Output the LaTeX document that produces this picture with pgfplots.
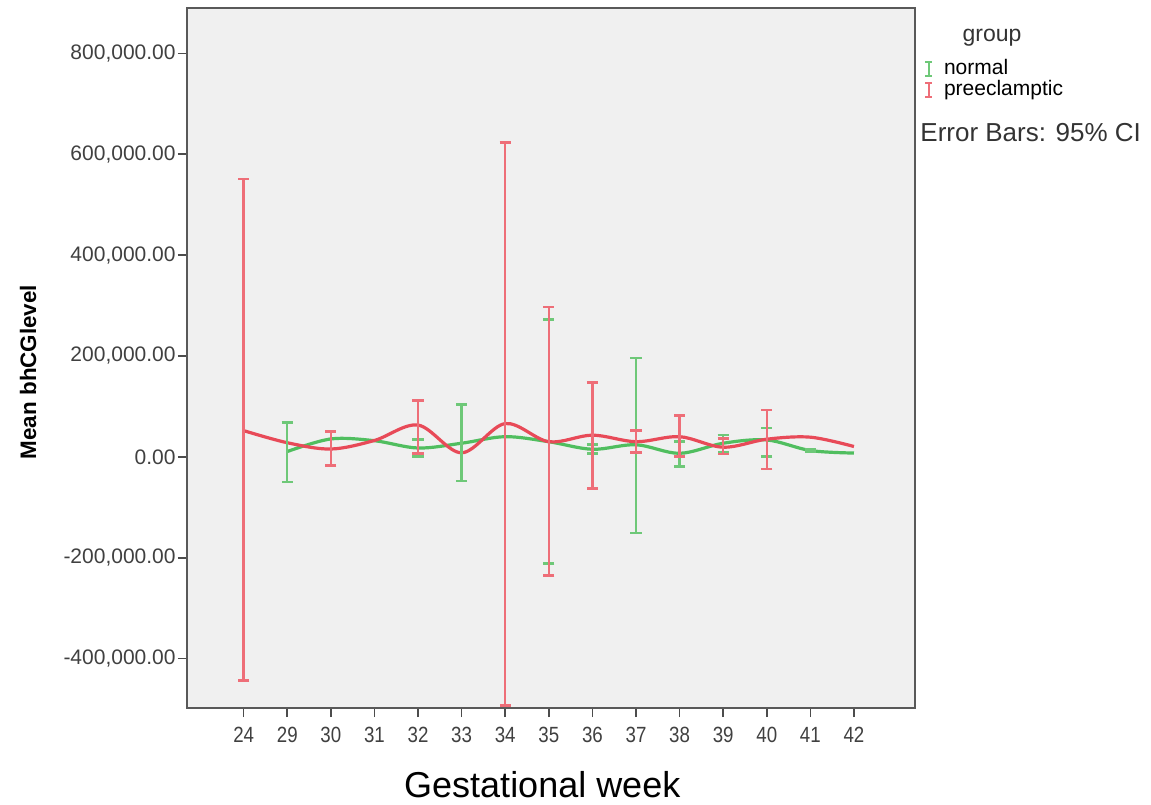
\documentclass[border=0pt]{standalone}
\usepackage{fontspec}
\setmainfont{Liberation Sans}
\usepackage{pgfplots}
\pgfplotsset{compat=1.18}
\usepackage{pgfplotstable}

\definecolor{spssgreen}{RGB}{80,190,95}
\definecolor{spssred}{RGB}{232,74,88}
\definecolor{bargreen}{RGB}{110,200,120}
\definecolor{barred}{RGB}{238,110,120}
\definecolor{plotbg}{RGB}{240,240,240}

% x: 0..14 = weeks 24,29,...,42
\pgfplotstableread{
x y
1 10500
2 35500
3 32000
4 17500
5 27000
6 40000
7 30000
8 15000
9 24000
10 7000
11 27000
12 33500
13 12500
14 7500
}\normalline

\pgfplotstableread{
x y lo hi
1 10500 -50000 68000
4 17500 500 35000
5 27000 -48000 103000
7 30000 -211000 272000
8 15000 7000 24500
9 24000 -151000 196000
10 7000 -18500 30500
11 27000 9000 43500
12 33500 0 57000
13 12500 9500 15000
}\normalci

\pgfplotstableread{
x y
0 52000
1 28000
2 15500
3 32500
4 63000
5 8000
6 66000
7 30000
8 43000
9 30000
10 40000
11 19000
12 35000
13 39000
14 20500
}\preline

\pgfplotstableread{
x y lo hi
0 52000 -444000 551000
2 15500 -17000 50000
4 63000 6000 112000
6 66000 -493000 623000
7 30000 -235000 297000
8 43000 -62000 148000
9 30000 8000 52000
10 40000 0 82000
11 19000 5500 36000
12 35000 -24000 93000
}\preci

\begin{document}
\begin{tikzpicture}
\useasboundingbox (-93.5pt,-48pt) rectangle (482pt,354pt);
\begin{axis}[
  name=ax,
  scale only axis,
  width=364pt, height=350pt,
  at={(0,0)}, anchor=south west,
  axis background/.style={fill=plotbg},
  axis line style={draw=black!65, line width=0.8pt},
  xmin=-1.3, xmax=15.4,
  ymin=-498000, ymax=890000,
  xtick={0,...,14},
  xticklabels={24,29,30,31,32,33,34,35,36,37,38,39,40,41,42},
  ytick={-400000,-200000,0,200000,400000,600000,800000},
  scaled y ticks=false,
  yticklabel style={/pgf/number format/fixed, /pgf/number format/fixed zerofill,
    /pgf/number format/precision=2, /pgf/number format/1000 sep={,},
    /pgf/number format/assume math mode=true},
  tick pos=left, tick align=outside,
  major tick length=4.5pt,
  tick style={draw=black!70, line width=0.8pt},
  yticklabel style={font=\fontsize{10.5}{12}\selectfont, text=black!75, inner sep=1pt},
  xticklabel style={font=\fontsize{11}{12}\selectfont, text=black!75, xscale=0.85, inner sep=1pt, yshift=-4pt},
  xlabel={Gestational week},
  xlabel style={at={(axis description cs:0.488,-0.11)}, anchor=center, font=\fontsize{18}{20}\selectfont},
  ylabel={Mean bhCGlevel},
  ylabel style={at={(axis description cs:-0.2184,0.48)}, anchor=center, font=\bfseries\fontsize{11.2}{13}\selectfont},
  legend style={at={(axis description cs:1.012,0.928)}, anchor=north west, draw=none, fill=none,
    font=\fontsize{10.5}{12}\selectfont, inner sep=0pt, column sep=4.5pt,
    nodes={text height=7pt, text depth=2pt, inner sep=0.75pt}},
  legend cell align=left,
]
\addplot[spssgreen, line width=1.6pt, smooth, tension=0.55, no marks,
  legend image code/.code={\draw[bargreen, line width=1.1pt] (0pt,-3.5pt)--(0pt,3.5pt) (-1.8pt,3.5pt)--(1.8pt,3.5pt) (-1.8pt,-3.5pt)--(1.8pt,-3.5pt);}]
  table[x=x, y=y] {\normalline};
\addlegendentry{normal}
\addplot[spssred, line width=1.6pt, smooth, tension=0.55, no marks,
  legend image code/.code={\draw[barred, line width=1.1pt] (0pt,-3.5pt)--(0pt,3.5pt) (-1.8pt,3.5pt)--(1.8pt,3.5pt) (-1.8pt,-3.5pt)--(1.8pt,-3.5pt);}]
  table[x=x, y=y] {\preline};
\addlegendentry{preeclamptic}
\addplot[draw=none, mark=none, forget plot,
  error bars/.cd, y dir=both, y explicit,
  error bar style={draw=bargreen, line width=1.2pt},
  error mark options={rotate=90, draw=bargreen, line width=1.4pt, mark size=2.8pt}]
  table[x=x, y=y, y error plus expr=\thisrow{hi}-\thisrow{y}, y error minus expr=\thisrow{y}-\thisrow{lo}] {\normalci};
\addplot[draw=none, mark=none, forget plot,
  error bars/.cd, y dir=both, y explicit,
  error bar style={draw=barred, line width=1.2pt},
  error mark options={rotate=90, draw=barred, line width=1.4pt, mark size=2.8pt}]
  table[x=x, y=y, y error plus expr=\thisrow{hi}-\thisrow{y}, y error minus expr=\thisrow{y}-\thisrow{lo}] {\preci};
\end{axis}
\node[font=\fontsize{11.5}{13}\selectfont, text=black!80] at ([xshift=38.5pt,yshift=-15pt]ax.north east) {group};
\node[anchor=west, font=\fontsize{13}{15}\selectfont, text=black!80, inner sep=0pt] at ([xshift=2.5pt,yshift=-62.5pt]ax.north east) {Error Bars: 95\% CI};
\end{tikzpicture}
\end{document}
